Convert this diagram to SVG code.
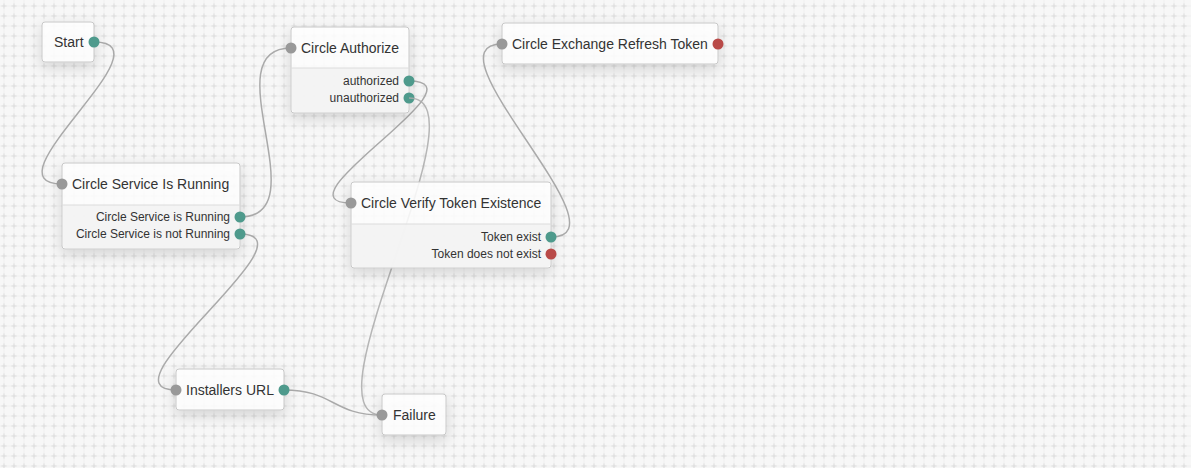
<svg xmlns="http://www.w3.org/2000/svg" width="1191" height="468" viewBox="0 0 1191 468">
<defs>
<pattern id="grid" width="10" height="10" patternUnits="userSpaceOnUse" x="-1" y="1">
<path d="M0,5H10M5,0V10" stroke="#efefef" stroke-width="1" fill="none"/>
<path d="M2.5,5H7.5M5,2.5V7.5" stroke="#dddddd" stroke-width="1" fill="none"/>
</pattern>
<filter id="sh" x="-40%" y="-40%" width="180%" height="190%">
<feDropShadow dx="0" dy="5" stdDeviation="7" flood-color="#000" flood-opacity="0.16"/>
</filter>
</defs>
<style>
.box{fill:#fff;fill-opacity:0.85;stroke:#c8c8c8;stroke-width:1;filter:url(#sh)}
.body{fill:#f2f2f2;fill-opacity:0.85}
.div{stroke:#dcdcdc;stroke-width:1}
.t{font-family:"Liberation Sans",Arial,sans-serif;font-size:14px;fill:#333}
.o{font-family:"Liberation Sans",Arial,sans-serif;font-size:12px;fill:#333;text-anchor:end}
.pi{fill:#999}
.pg{fill:#4e9a8c}
.pr{fill:#b94a48}
.e{fill:none;stroke:#aaa;stroke-width:1.5}
</style>
<rect width="1191" height="468" fill="#f7f7f7"/>
<rect width="1191" height="468" fill="url(#grid)"/>
<g id="connectors">
<path class="e" d="M94,42 C174,42 -18,184 62,184"/>
<path class="e" d="M240,217 C320,217 211,48 291,48"/>
<path class="e" d="M240,234 C320,234 96,390 176,390"/>
<path class="e" d="M409,81 C489,81 271,203 351,203"/>
<path class="e" d="M551,237 C631,237 422,44 502,44"/>
<path class="e" d="M284,390 C334,390 332,415 382,415"/>
</g>
<g id="node-start">
<rect class="box" x="42" y="22" width="52" height="40" rx="3"/>
<text class="t" x="54" y="47">Start</text>
<circle class="pg" cx="94" cy="42" r="5.5"/>
</g>
<g id="node-authorize">
<rect class="box" x="291" y="27" width="118" height="86" rx="3"/>
<path class="body" d="M292,68H408V109a3,3 0 0 1 -3,3H295a3,3 0 0 1 -3,-3Z"/>
<line class="div" x1="291" y1="68" x2="409" y2="68"/>
<text class="t" x="301" y="53">Circle Authorize</text>
<text class="o" x="399" y="85">authorized</text>
<text class="o" x="399" y="102">unauthorized</text>
<circle class="pi" cx="291" cy="48" r="5.5"/>
<circle class="pg" cx="409" cy="81" r="5.5"/>
<circle class="pg" cx="409" cy="98" r="5.5"/>
</g>
<g id="node-exchange">
<rect class="box" x="502" y="23" width="216" height="41" rx="3"/>
<text class="t" x="512" y="49">Circle Exchange Refresh Token</text>
<circle class="pi" cx="502" cy="44" r="5.5"/>
<circle class="pr" cx="718" cy="44" r="5.5"/>
</g>
<g id="node-service">
<rect class="box" x="62" y="163" width="178" height="86" rx="3"/>
<path class="body" d="M63,205H239V245a3,3 0 0 1 -3,3H66a3,3 0 0 1 -3,-3Z"/>
<line class="div" x1="62" y1="205" x2="240" y2="205"/>
<text class="t" x="72" y="189">Circle Service Is Running</text>
<text class="o" x="230" y="221">Circle Service is Running</text>
<text class="o" x="230" y="238">Circle Service is not Running</text>
<circle class="pi" cx="62" cy="184" r="5.5"/>
<circle class="pg" cx="240" cy="217" r="5.5"/>
<circle class="pg" cx="240" cy="234" r="5.5"/>
</g>
<g id="connector-over">
<path class="e" d="M409,98 C489,98 302,415 382,415" stroke-opacity="0.85"/>
</g>
<g id="node-verify">
<rect class="box" x="351" y="182" width="200" height="86" rx="3"/>
<path class="body" d="M352,224H550V264a3,3 0 0 1 -3,3H355a3,3 0 0 1 -3,-3Z"/>
<line class="div" x1="351" y1="224" x2="551" y2="224"/>
<text class="t" x="361" y="208">Circle Verify Token Existence</text>
<text class="o" x="541" y="241">Token exist</text>
<text class="o" x="541" y="258">Token does not exist</text>
<circle class="pi" cx="351" cy="203" r="5.5"/>
<circle class="pg" cx="551" cy="237" r="5.5"/>
<circle class="pr" cx="551" cy="254" r="5.5"/>
</g>
<g id="node-installers">
<rect class="box" x="176" y="369" width="108" height="41" rx="3"/>
<text class="t" x="186" y="395">Installers URL</text>
<circle class="pi" cx="176" cy="390" r="5.5"/>
<circle class="pg" cx="284" cy="390" r="5.5"/>
</g>
<g id="node-failure">
<rect class="box" x="382" y="394" width="64" height="41" rx="3"/>
<text class="t" x="393" y="420">Failure</text>
<circle class="pi" cx="382" cy="415" r="5.5"/>
</g>
</svg>
